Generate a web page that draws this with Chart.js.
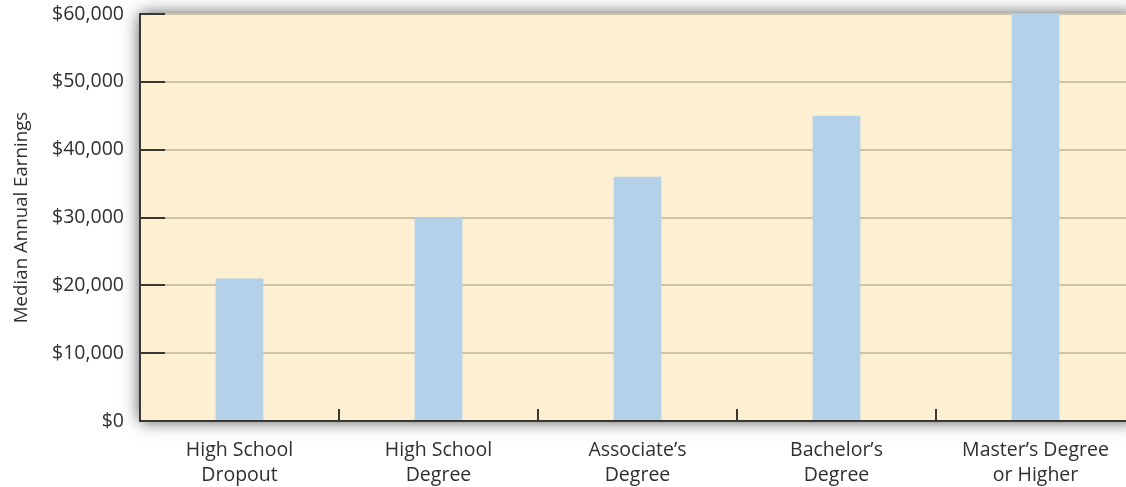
<!DOCTYPE html>
<html>
<head>
<meta charset="utf-8">
<script src="https://cdn.jsdelivr.net/npm/chart.js@4"></script>
<style>
  html, body { margin: 0; padding: 0; background: #fff; overflow: hidden; }
  #wrap { width: 1126px; height: 487px; overflow: hidden; }
</style>
</head>
<body>
<div id="wrap"><canvas id="earnings" width="1135" height="487"></canvas></div>
<script>
// education levels and median earnings
const categories = [
    ['High School', 'Dropout'],
    ['High School', 'Degree'],
    ['Associate\u2019s', 'Degree'],
    ['Bachelor\u2019s', 'Degree'],
    ['Master\u2019s Degree', 'or Higher']
];
const earnings = [21000, 30000, 36000, 45000, 60000];
const yTicks = [0, 10000, 20000, 30000, 40000, 50000, 60000];

const textColor = '#2f2f2f';
const axisColor = '#3a3833';

// cream plot background with soft shadow around it
const plotBackground = {
    id: 'plotBackground',
    beforeDraw(chart) {
        const { ctx, chartArea: a } = chart;
        ctx.save();
        ctx.shadowColor = 'rgba(0,0,0,0.7)';
        ctx.shadowBlur = 16;
        ctx.fillStyle = '#fdefd1';
        ctx.fillRect(a.left, a.top, a.right - a.left, a.bottom - a.top);
        ctx.restore();
    }
};

// short dark tick marks drawn inside the plot
const innerTicks = {
    id: 'innerTicks',
    afterDatasetsDraw(chart) {
        const { ctx, chartArea: a, scales } = chart;
        ctx.save();
        ctx.strokeStyle = axisColor;
        ctx.lineWidth = 2;
        ctx.beginPath();
        yTicks.forEach(v => {
            const y = Math.round(scales.y.getPixelForValue(v));
            ctx.moveTo(a.left, y);
            ctx.lineTo(a.left + 25, y);
        });
        for (let i = 1; i < categories.length; i++) {
            const x = Math.round((scales.x.getPixelForValue(i - 1) + scales.x.getPixelForValue(i)) / 2);
            ctx.moveTo(x, a.bottom);
            ctx.lineTo(x, a.bottom - 12);
        }
        ctx.stroke();
        ctx.restore();
    }
};

new Chart(document.getElementById('earnings'), {
    type: 'bar',
    data: {
        labels: categories,
        datasets: [{
            data: earnings,
            backgroundColor: '#b3d2e9',
            borderWidth: 0,
            categoryPercentage: 1,
            barPercentage: 0.24
        }]
    },
    options: {
        responsive: false,
        animation: false,
        layout: { padding: { top: 14, right: 0, left: 0, bottom: 0 } },
        plugins: {
            legend: { display: false },
            tooltip: { enabled: false }
        },
        scales: {
            x: {
                grid: { display: false },
                border: { color: axisColor, width: 2 },
                ticks: {
                    color: textColor,
                    padding: 9,
                    maxRotation: 0,
                    autoSkip: false,
                    font: { family: 'Open Sans', size: 19.5, lineHeight: 1.28 }
                },
                afterFit(scale) { scale.height = 66; }
            },
            y: {
                min: 0,
                max: 60000,
                afterBuildTicks(scale) { scale.ticks = yTicks.map(v => ({ value: v })); },
                grid: { color: '#cdc3a6', lineWidth: 2, drawTicks: false },
                border: { color: axisColor, width: 2 },
                ticks: {
                    color: textColor,
                    padding: 16,
                    font: { family: 'Open Sans', size: 19.5 },
                    callback: v => '$' + v.toLocaleString('en-US')
                },
                title: {
                    display: true,
                    text: 'Median Annual Earnings',
                    color: textColor,
                    padding: { top: 10, bottom: 0 },
                    font: { family: 'Open Sans', size: 18.7 }
                },
                afterFit(scale) {
                    scale.width = 140;
                    scale.paddingTop = 0;
                    scale.paddingBottom = 0;
                }
            }
        }
    },
    plugins: [plotBackground, innerTicks]
});
</script>
</body>
</html>
